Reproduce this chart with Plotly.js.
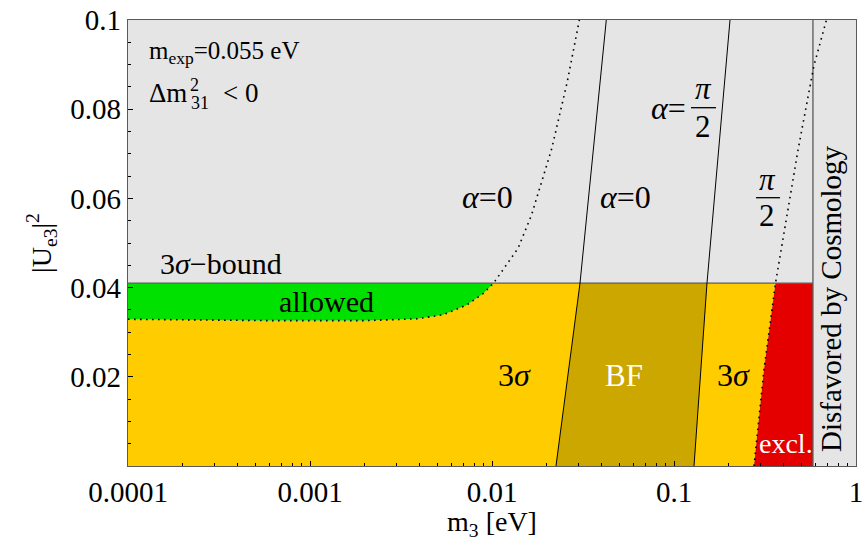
<!DOCTYPE html>
<html><head><meta charset="utf-8">
<script src="https://cdn.plot.ly/plotly-3.0.1.min.js"></script>
<style>html,body{margin:0;padding:0;background:#fff}#chart{width:865px;height:541px}</style>
</head><body><div id="chart"></div>
<script>
// ---- data ----
// lower edge of the "allowed" band (dotted alpha=0 curve, 3 sigma)
const allowedM = [0.0001, 0.00058, 0.00205, 0.00386, 0.00538, 0.00726, 0.00896, 0.0102, 0.0139, 0.0165, 0.0213, 0.0259, 0.0302];
const allowedU = [0.0329, 0.0326, 0.0326, 0.0330, 0.0339, 0.0361, 0.0387, 0.041, 0.0488, 0.0563, 0.0712, 0.0861, 0.1];
// best-fit alpha=0 solid line
const bfLeftM = [0.02247, 0.03045, 0.04246];
const bfLeftU = [0, 0.041, 0.1];
// best-fit alpha=pi/2 solid line
const bfRightM = [0.1288, 0.1518, 0.2031];
const bfRightU = [0, 0.041, 0.1];
// 3 sigma alpha=pi/2 dotted line
const sigRightM = [0.2752, 0.3122, 0.3612, 0.4161, 0.4819, 0.5875, 0.688];
const sigRightU = [0, 0.0216, 0.041, 0.0563, 0.0712, 0.0898, 0.1];
// limits
const bound = 0.041;     // 3 sigma bound on |Ue3|^2
const cosmoM = 0.58;     // cosmology limit on m3
const yMax = 0.1;
// axis ticks
const xTickVals = [0.0001, 0.001, 0.01, 0.1, 1];
const xTickText = ["0.0001", "0.001", "0.01", "0.1", "1"];
const yTickVals = [0.02, 0.04, 0.06, 0.08, 0.1];
const yTickText = ["0.02", "0.04", "0.06", "0.08", "0.1"];

// ---- build regions ----
const iA = allowedU.indexOf(bound);
const iS = sigRightU.indexOf(bound);
const iB = bfLeftU.indexOf(bound);
const lowA_M = allowedM.slice(0, iA + 1), lowA_U = allowedU.slice(0, iA + 1);
const lowS_M = sigRightM.slice(0, iS + 1), lowS_U = sigRightU.slice(0, iS + 1);

const GREEN = '#00e100', YELLOW = '#ffcc00', BFC = '#cca700', RED = '#e50000', GRAY = '#e5e5e5', FRAME = '#5a5a5a';

const fillTrace = (x, y, c) => ({x, y, mode: 'lines', fill: 'toself', fillcolor: c, line: {width: 0, color: c}, hoverinfo: 'skip', showlegend: false});
const lineTrace = (x, y, c, w, dash) => ({x, y, mode: 'lines', line: {width: w, color: c, dash: dash || 'solid'}, hoverinfo: 'skip', showlegend: false});

const traces = [
  fillTrace([allowedM[0]].concat(lowS_M, lowA_M.slice().reverse()), [0].concat(lowS_U, lowA_U.slice().reverse()), YELLOW),
  fillTrace(lowA_M.concat([allowedM[0]]), lowA_U.concat([bound]), GREEN),
  fillTrace(bfLeftM.slice(0, iB + 1).concat(bfRightM.slice(0, iB + 1).reverse()), bfLeftU.slice(0, iB + 1).concat(bfRightU.slice(0, iB + 1).reverse()), BFC),
  fillTrace(lowS_M.concat([cosmoM, cosmoM]), lowS_U.concat([bound, 0]), RED),
  lineTrace([allowedM[0], cosmoM], [bound, bound], FRAME, 1.3),
  lineTrace([cosmoM, cosmoM], [0, yMax], FRAME, 1.3),
  lineTrace(bfLeftM, bfLeftU, '#000', 1),
  lineTrace(bfRightM, bfRightU, '#000', 1),
  lineTrace(allowedM, allowedU, '#000', 1.6, '1.6px,4.4px'),
  lineTrace(sigRightM, sigRightU, '#000', 1.6, '1.6px,4.4px')
];

// ---- layout ----
const L = 128, R = 9, T = 20, B = 75, W = 865 - L - R, H = 541 - T - B;
const px = p => (p - L) / W, py = p => 1 - (p - T) / H;
const FONT = "'Liberation Serif', 'Times New Roman', serif";
const f = (size, color) => ({family: FONT, size: size, color: color || '#000'});
const ann = (text, x, y, o) => Object.assign({text, x: px(x), y: py(y), xref: 'paper', yref: 'paper', showarrow: false, xanchor: 'center', yanchor: 'middle', font: f(29)}, o || {});

const minorX = [];
for (let d = -4; d < 0; d++) for (let k = 2; k <= 9; k++) minorX.push(k * Math.pow(10, d));

const annotations = [
  ann('m<sub>exp</sub>=0.055 eV', 147, 53, {xanchor: 'left', font: f(25)}),
  ann('Δm', 147, 93, {xanchor: 'left', font: f(27)}),
  ann('2', 194, 85, {font: f(18)}),
  ann('31', 200, 103, {font: f(18)}),
  ann('&lt; 0', 221, 93, {xanchor: 'left', font: f(27)}),
  ann('3<i>σ</i>−bound', 221, 263, {font: f(30)}),
  ann('allowed', 326, 301, {font: f(30)}),
  ann('<i>α</i>=0', 487, 197, {font: f(32)}),
  ann('<i>α</i>=0', 625, 197, {font: f(32)}),
  ann('<i>α</i>=', 668, 108, {font: f(32)}),
  ann('<i>π</i>', 703, 88, {font: f(31)}),
  ann('2', 703, 126, {font: f(31)}),
  ann('<i>π</i>', 767, 179, {font: f(31)}),
  ann('2', 767, 216, {font: f(31)}),
  ann('3<i>σ</i>', 514, 375, {font: f(32)}),
  ann('BF', 624, 375, {font: f(31, '#fff')}),
  ann('3<i>σ</i>', 733, 375, {font: f(32)}),
  ann('excl.', 757, 443, {xanchor: 'left', font: f(28, '#fff')}),
  ann('Disfavored by Cosmology', 831, 299, {textangle: -90, font: f(29)})
];
const bar = (x0, x1, y) => ({type: 'line', xref: 'paper', yref: 'paper', x0: px(x0), x1: px(x1), y0: py(y), y1: py(y), line: {color: '#000', width: 1.3}});

const layout = {
  width: 865, height: 541,
  margin: {l: L, r: R, t: T, b: B},
  paper_bgcolor: '#fff', plot_bgcolor: GRAY,
  showlegend: false,
  font: {family: FONT, color: '#000'},
  xaxis: {
    type: 'log', range: [-4, 0], showgrid: false, zeroline: false,
    showline: true, mirror: true, linecolor: FRAME, linewidth: 1.3,
    tickmode: 'array', tickvals: xTickVals, ticktext: xTickText,
    ticks: 'inside', ticklen: 5, tickcolor: '#000', tickwidth: 1,
    tickfont: f(29),
    minor: {tickmode: 'array', tickvals: minorX, ticks: 'inside', ticklen: 3, tickcolor: '#000', showgrid: false},
    title: {text: 'm<sub>3</sub> [eV]', font: f(28), standoff: 2},
    automargin: false
  },
  yaxis: {
    range: [0, yMax], showgrid: false, zeroline: false,
    showline: true, mirror: true, linecolor: FRAME, linewidth: 1.3,
    tickmode: 'array', tickvals: yTickVals, ticktext: yTickText,
    ticks: 'inside', ticklen: 5, tickcolor: '#000', tickwidth: 1,
    tickfont: f(29),
    minor: {dtick: 0.005, ticks: 'inside', ticklen: 3, tickcolor: '#000', showgrid: false},
    title: {text: '|U<sub>e3</sub>|<sup>2</sup>', font: f(28), standoff: 10},
    automargin: false
  },
  annotations,
  shapes: [bar(691, 716, 107.7), bar(756, 780, 197.7)]
};

Plotly.newPlot('chart', traces, layout, {staticPlot: true, displayModeBar: false});
</script>
</body></html>
